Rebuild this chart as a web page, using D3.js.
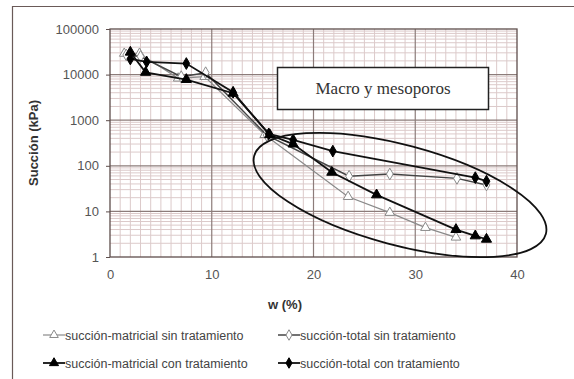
<!DOCTYPE html>
<html><head><meta charset="utf-8">
<script src="https://cdn.jsdelivr.net/npm/d3@7"></script>
<style>body{margin:0;background:#fff}svg{display:block}</style>
</head><body><svg id="c" width="574" height="379"></svg>
<script>
const xTicks = [0, 10, 20, 30, 40];
const yTicks = [1, 10, 100, 1000, 10000, 100000];
const seriesNames = ["succión-matricial sin tratamiento","succión-total sin tratamiento","succión-matricial con tratamiento","succión-total con tratamiento"];
const matSinW = [1.4, 2.9, 6.7, 9.3, 15.2, 23.4, 27.5, 31.0, 34.0];
const matSinS = [29000, 29000, 8300, 9000, 480, 21, 9.4, 4.4, 2.7];
const totSinW = [1.6, 3.0, 7.0, 9.4, 15.4, 23.5, 27.5, 34.1, 37.0];
const totSinS = [27000, 25000, 9000, 11000, 470, 59, 66, 53, 38];
const matConW = [2.0, 3.5, 7.5, 12.1, 15.7, 18.0, 21.8, 26.2, 34.0, 35.9, 37.0];
const matConS = [31000, 11200, 7800, 3900, 480, 300, 72, 23, 4.0, 2.9, 2.45];
const totConW = [2.0, 3.6, 7.5, 12.1, 15.6, 18.0, 21.9, 35.9, 37.0];
const totConS = [22000, 19000, 17500, 4100, 500, 370, 210, 55, 46];

const svg = d3.select("#c");
const L = 110, R = 517, T = 29, B = 257;
const x = d3.scaleLinear().domain([0, 40]).range([L, R]);
const y = d3.scaleLog().domain([1, 100000]).range([B, T]);

// outer frame lines
svg.append("line").attr("x1",12).attr("x2",574).attr("y1",6.5).attr("y2",6.5).attr("stroke","#6a5a58").attr("stroke-width",1.2);
svg.append("line").attr("x1",12.5).attr("x2",12.5).attr("y1",6).attr("y2",379).attr("stroke","#6a5a58").attr("stroke-width",1.2);

const g = svg.append("g");
// minor grid
const minorX = d3.range(1, 40).filter(v => v % 10 !== 0);
g.selectAll(".mx").data(minorX).enter().append("line")
  .attr("x1", d => x(d)).attr("x2", d => x(d)).attr("y1", T).attr("y2", B)
  .attr("stroke", "#dccaca").attr("stroke-width", 1);
const minorY = [];
for (let e = 0; e < 5; e++) for (let k = 2; k <= 9; k++) minorY.push(k * Math.pow(10, e));
g.selectAll(".my").data(minorY).enter().append("line")
  .attr("x1", L).attr("x2", R).attr("y1", d => y(d)).attr("y2", d => y(d))
  .attr("stroke", "#dccaca").attr("stroke-width", 1);
// major grid
g.selectAll(".Mx").data(xTicks.slice(1, -1)).enter().append("line")
  .attr("x1", d => x(d)).attr("x2", d => x(d)).attr("y1", T).attr("y2", B)
  .attr("stroke", "#8c7c7a").attr("stroke-width", 1.2);
g.selectAll(".My").data(yTicks.slice(1, -1)).enter().append("line")
  .attr("x1", L).attr("x2", R).attr("y1", d => y(d)).attr("y2", d => y(d))
  .attr("stroke", "#8c7c7a").attr("stroke-width", 1.2);
// plot border
g.append("rect").attr("x", L).attr("y", T).attr("width", R - L).attr("height", B - T)
  .attr("fill", "none").attr("stroke", "#5e4e4c").attr("stroke-width", 1.3);

// axes
const xAxis = d3.axisBottom(x).tickValues(xTicks).tickSize(0).tickPadding(13).tickFormat(d3.format("d"));
const ax = svg.append("g").attr("transform", `translate(0,${B})`).call(xAxis);
const yAxis = d3.axisLeft(y).tickValues(yTicks).tickSize(4).tickPadding(7).tickFormat(d3.format("d"));
const ay = svg.append("g").attr("transform", `translate(${L},0)`).call(yAxis);
[ax, ay].forEach(a => {
  a.select(".domain").remove();
  a.selectAll("line").attr("stroke", "#5e4e4c");
  a.selectAll("text").attr("font-family", "Liberation Sans, Arial, sans-serif").attr("font-size", 13).attr("fill", "#555");
});

// annotation box
svg.append("rect").attr("x", 277.5).attr("y", 67.5).attr("width", 211).attr("height", 42)
  .attr("fill", "#fff").attr("stroke", "#222").attr("stroke-width", 1.5);
svg.append("text").attr("x", 383).attr("y", 94).attr("text-anchor", "middle")
  .attr("font-family", "Liberation Serif, Times New Roman, serif").attr("font-size", 17).attr("fill", "#333")
  .text("Macro y mesoporos");

// series
const series = [
  {w: matSinW, s: matSinS, line: "#8a8a8a", lw: 1.2, sym: d3.symbolTriangle, fill: "#fff", stroke: "#8a8a8a", size: 40},
  {w: totSinW, s: totSinS, line: "#444", lw: 1.5, sym: d3.symbolDiamond, fill: "#fff", stroke: "#8a8a8a", size: 40},
  {w: matConW, s: matConS, line: "#111", lw: 1.8, sym: d3.symbolTriangle, fill: "#000", stroke: "#000", size: 45},
  {w: totConW, s: totConS, line: "#111", lw: 1.8, sym: d3.symbolDiamond, fill: "#000", stroke: "#000", size: 40}
];
const lineGen = d3.line().x(d => x(d[0])).y(d => y(d[1]));
series.forEach(sr => {
  const pts = sr.w.map((w, i) => [w, sr.s[i]]);
  svg.append("path").datum(pts).attr("d", lineGen).attr("fill", "none")
    .attr("stroke", sr.line).attr("stroke-width", sr.lw);
  svg.selectAll(null).data(pts).enter().append("path")
    .attr("d", d3.symbol().type(sr.sym).size(sr.size))
    .attr("transform", d => `translate(${x(d[0])},${y(d[1])})`)
    .attr("fill", sr.fill).attr("stroke", sr.stroke).attr("stroke-width", 1);
});

// ellipse
svg.append("ellipse").attr("cx", 0).attr("cy", 0).attr("rx", 151).attr("ry", 50)
  .attr("transform", "translate(400,195) rotate(15)")
  .attr("fill", "none").attr("stroke", "#111").attr("stroke-width", 1.8);

// axis titles
svg.append("text").attr("x", 285).attr("y", 309).attr("text-anchor", "middle")
  .attr("font-family", "Liberation Sans, Arial, sans-serif").attr("font-size", 13).attr("font-weight", "bold").attr("fill", "#333")
  .text("w (%)");
svg.append("text").attr("transform", "translate(38,143) rotate(-90)").attr("text-anchor", "middle")
  .attr("font-family", "Liberation Sans, Arial, sans-serif").attr("font-size", 13).attr("font-weight", "bold").attr("fill", "#333")
  .text("Succión (kPa)");

// legend
const legPos = [[43, 335], [278, 335], [43, 363], [278, 363]];
series.forEach((sr, i) => {
  const [lx, ly] = legPos[i];
  const lg = svg.append("g").attr("transform", `translate(${lx},${ly})`);
  lg.append("line").attr("x1", 0).attr("x2", 22).attr("y1", 0).attr("y2", 0).attr("stroke", sr.line).attr("stroke-width", sr.lw);
  lg.append("path").attr("d", d3.symbol().type(sr.sym).size(sr.size * 0.8)).attr("transform", "translate(11,0)")
    .attr("fill", sr.fill).attr("stroke", sr.stroke);
  lg.append("text").attr("x", 22).attr("y", 4.5)
    .attr("font-family", "Liberation Sans, Arial, sans-serif").attr("font-size", 12.5).attr("fill", "#444")
    .text(seriesNames[i]);
});
</script></body></html>
